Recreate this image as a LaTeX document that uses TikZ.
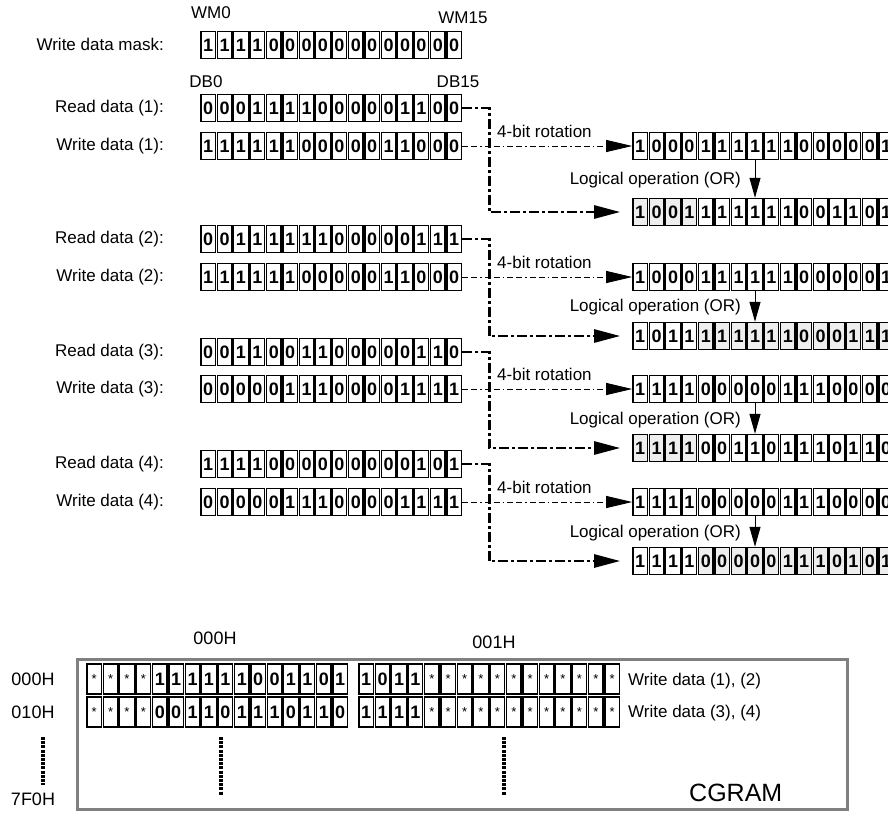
\documentclass[tikz,border=0pt]{standalone}
\usepackage{fontspec}
\setmainfont{Liberation Sans}
\usetikzlibrary{arrows.meta,calc}
\definecolor{shadegray}{RGB}{238,238,238}
\definecolor{framegray}{RGB}{128,128,128}
\newcommand{\cw}{16.4}
% \bitrow{name}{x0}{yc}{bits}{shade from}{shade to}
\newcommand{\bitrow}[6]{%
  \foreach \b [count=\i from 0] in {#4}{%
    \pgfmathsetmacro{\shd}{(\i>=#5)&&(\i<=#6)?1:0}%
    \ifdim\shd pt>0.5pt
      \node[cell,fill=shadegray] (#1-\i) at ({#2+\i*\cw+\cw/2},#3) {\b};
    \else
      \node[cell] (#1-\i) at ({#2+\i*\cw+\cw/2},#3) {\b};
    \fi
  }%
}
\newcommand{\cgrow}[4]{%
  \foreach \b [count=\i from 0] in {#4}{%
    \ifx\b\starsym
      \node[cgcell,font=\fontsize{13}{13}\selectfont] (#1-\i) at ({#2+\i*\cw+\cw/2},#3) {*};
    \else
      \node[cgcell] (#1-\i) at ({#2+\i*\cw+\cw/2},#3) {\b};
    \fi
  }%
}
\def\starsym{s}
\begin{document}
\begin{tikzpicture}[x=1pt,y=-1pt,
  cell/.style={draw,line width=1.4pt,minimum width=14.6pt,minimum height=27pt,inner sep=0pt,font=\fontsize{18}{18}\selectfont\bfseries},
  cgcell/.style={draw,line width=1.4pt,minimum width=14.6pt,minimum height=30pt,inner sep=0pt,font=\fontsize{18}{18}\selectfont\bfseries},
  lbl/.style={font=\fontsize{17}{19}\selectfont,inner sep=0pt},
  hexlbl/.style={font=\fontsize{18}{20}\selectfont,inner sep=0pt},
  wline/.style={line width=1pt,dash pattern=on 6pt off 3pt on 6pt off 3pt on 1.5pt off 3pt,-{Triangle[length=26pt,width=12pt]}},
  rline/.style={line width=2.6pt,dash pattern=on 10pt off 3pt on 3pt off 3pt,-{Triangle[length=26pt,width=13pt]},shorten >=12pt},
  orarrow/.style={line width=1pt,-{Triangle[length=20pt,width=11pt]}},
  vdots/.style={line width=4pt,dash pattern=on 3pt off 1.2pt}
]
\useasboundingbox (0,0) rectangle (888,812);

% header labels
\node[lbl] (wm0) at (211,13) {WM0};
\node[lbl] (wm15) at (463,18) {WM15};
\node[lbl,anchor=east] (lmask) at (164,44) {Write data mask:};
\bitrow{mask}{200}{45}{1,1,1,1,0,0,0,0,0,0,0,0,0,0,0,0}{99}{-1}
\node[lbl] (db0) at (206,82) {DB0};
\node[lbl] (db15) at (458,82) {DB15};

% left labels
\node[lbl,anchor=east] (lr1) at (164,108) {Read data (1):};
\node[lbl,anchor=east] (lw1) at (164,146) {Write data (1):};
\node[lbl,anchor=east] (lr2) at (164,239) {Read data (2):};
\node[lbl,anchor=east] (lw2) at (164,277) {Write data (2):};
\node[lbl,anchor=east] (lr3) at (164,352) {Read data (3):};
\node[lbl,anchor=east] (lw3) at (164,389) {Write data (3):};
\node[lbl,anchor=east] (lr4) at (164,464) {Read data (4):};
\node[lbl,anchor=east] (lw4) at (164,502) {Write data (4):};

% left rows
\bitrow{r1}{200}{108}{0,0,0,1,1,1,1,0,0,0,0,0,1,1,0,0}{99}{-1}
\bitrow{w1}{200}{146}{1,1,1,1,1,1,0,0,0,0,0,1,1,0,0,0}{99}{-1}
\bitrow{r2}{200}{239}{0,0,1,1,1,1,1,1,0,0,0,0,0,1,1,1}{99}{-1}
\bitrow{w2}{200}{277}{1,1,1,1,1,1,0,0,0,0,0,1,1,0,0,0}{99}{-1}
\bitrow{r3}{200}{352}{0,0,1,1,0,0,1,1,0,0,0,0,0,1,1,0}{99}{-1}
\bitrow{w3}{200}{389}{0,0,0,0,0,1,1,1,0,0,0,0,1,1,1,1}{99}{-1}
\bitrow{r4}{200}{464}{1,1,1,1,0,0,0,0,0,0,0,0,0,1,0,1}{99}{-1}
\bitrow{w4}{200}{502}{0,0,0,0,0,1,1,1,0,0,0,0,1,1,1,1}{99}{-1}

% right rows
\bitrow{rot1}{632}{146}{1,0,0,0,1,1,1,1,1,1,0,0,0,0,0,1}{99}{-1}
\bitrow{res1}{632}{212}{1,0,0,1,1,1,1,1,1,1,0,0,1,1,0,1}{0}{3}
\bitrow{rot2}{632}{277}{1,0,0,0,1,1,1,1,1,1,0,0,0,0,0,1}{99}{-1}
\bitrow{res2}{632}{336}{1,0,1,1,1,1,1,1,1,1,0,0,0,1,1,1}{4}{15}
\bitrow{rot3}{632}{389}{1,1,1,1,0,0,0,0,0,1,1,1,0,0,0,0}{99}{-1}
\bitrow{res3}{632}{448}{1,1,1,1,0,0,1,1,0,1,1,1,0,1,1,0}{0}{3}
\bitrow{rot4}{632}{502}{1,1,1,1,0,0,0,0,0,1,1,1,0,0,0,0}{99}{-1}
\bitrow{res4}{632}{561}{1,1,1,1,0,0,0,0,0,1,1,1,0,1,0,1}{4}{15}

% connectors
\foreach \k in {1,2,3,4}{
  \draw[rline] (r\k-15.east) -- ++(27,0) |- (res\k-0.west);
  \draw[wline] (w\k-15.east) -- (rot\k-0.west);
  \draw[orarrow] (rot\k-7.south) -- (res\k-7.north);
}
\foreach \k/\yy in {1/146,2/277,3/389,4/502}{
  \node[lbl,anchor=west] (rotl\k) at (497,\yy-15) {4-bit rotation};
}
\foreach \k/\yy in {1/180,2/307,3/420,4/533}{
  \node[lbl,anchor=east] (orl\k) at (741,\yy) {Logical operation (OR)};
}

% CGRAM
\draw[framegray,line width=3pt] (77,659) rectangle (847,809);
\node[hexlbl] (h000t) at (215,638) {000H};
\node[hexlbl] (h001t) at (494,642) {001H};
\node[hexlbl] (h000) at (33,679) {000H};
\node[hexlbl] (h010) at (33,712) {010H};
\node[hexlbl] (h7f0) at (33,799) {7F0H};
\cgrow{ca1}{86}{679}{s,s,s,s,1,1,1,1,1,1,0,0,1,1,0,1}
\cgrow{cb1}{358}{679}{1,0,1,1,s,s,s,s,s,s,s,s,s,s,s,s}
\cgrow{ca2}{86}{712}{s,s,s,s,0,0,1,1,0,1,1,1,0,1,1,0}
\cgrow{cb2}{358}{712}{1,1,1,1,s,s,s,s,s,s,s,s,s,s,s,s}
\node[lbl,anchor=west] (wd12) at (628,681) {Write data (1), (2)};
\node[lbl,anchor=west] (wd34) at (628,713) {Write data (3), (4)};
\node[font=\fontsize{25}{28}\selectfont,anchor=west,inner sep=0pt] (cgram) at (689,793) {CGRAM};
\coordinate (d1a) at (43,737); \coordinate (d1b) at (43,785);
\coordinate (d2a) at (221,737); \coordinate (d2b) at (221,795);
\coordinate (d3a) at (504,737); \coordinate (d3b) at (504,795);
\draw[vdots] (d1a) -- (d1b);
\draw[vdots] (d2a) -- (d2b);
\draw[vdots] (d3a) -- (d3b);
\end{tikzpicture}
\end{document}
